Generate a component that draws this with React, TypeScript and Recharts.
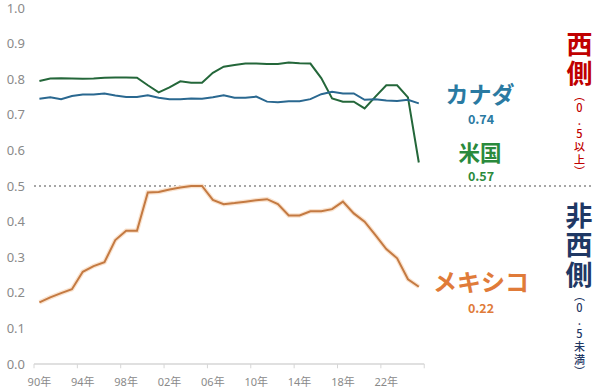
import React from "react";
import { LineChart, Line, XAxis, YAxis, ReferenceLine } from "recharts";

const years = [
  1990, 1991, 1992, 1993, 1994, 1995, 1996, 1997, 1998, 1999,
  2000, 2001, 2002, 2003, 2004, 2005, 2006, 2007, 2008, 2009,
  2010, 2011, 2012, 2013, 2014, 2015, 2016, 2017, 2018, 2019,
  2020, 2021, 2022, 2023, 2024, 2025,
];

const canada = [
  0.745, 0.749, 0.744, 0.753, 0.757, 0.757, 0.76, 0.754, 0.75, 0.75,
  0.755, 0.748, 0.744, 0.744, 0.746, 0.745, 0.749, 0.755, 0.748, 0.748,
  0.751, 0.737, 0.735, 0.738, 0.738, 0.744, 0.758, 0.765, 0.76, 0.76,
  0.742, 0.744, 0.74, 0.739, 0.742, 0.732,
];

const usa = [
  0.795, 0.802, 0.803, 0.802, 0.801, 0.802, 0.804, 0.805, 0.805, 0.804,
  0.783, 0.763, 0.777, 0.794, 0.79, 0.79, 0.818, 0.835, 0.84, 0.844,
  0.844, 0.843, 0.843, 0.847, 0.845, 0.844, 0.803, 0.746, 0.737, 0.737,
  0.718, 0.751, 0.783, 0.783, 0.749, 0.566,
];

const mexico = [
  0.173, 0.187, 0.199, 0.21, 0.259, 0.275, 0.286, 0.348, 0.374, 0.374,
  0.482, 0.483, 0.49, 0.496, 0.5, 0.5, 0.461, 0.449, 0.452, 0.456,
  0.46, 0.463, 0.449, 0.417, 0.417, 0.429, 0.429, 0.435, 0.456, 0.423,
  0.4, 0.362, 0.323, 0.297, 0.238, 0.217,
];

const tickYears = [1990, 1994, 1998, 2002, 2006, 2010, 2014, 2018, 2022];
const tickLabels = ["90年", "94年", "98年", "02年", "06年", "10年", "14年", "18年", "22年"];
const tickBoundaries = [1989.5, 1993.5, 1997.5, 2001.5, 2005.5, 2009.5, 2013.5, 2017.5, 2021.5, 2025.5];
const yTicks = [0, 0.1, 0.2, 0.3, 0.4, 0.5, 0.6, 0.7, 0.8, 0.9, 1.0];

const rows = years.map((year, i) => ({
  year,
  canada: canada[i],
  usa: usa[i],
  mexico: mexico[i],
}));

const C_CANADA_LINE = "#2a6890";
const C_US_LINE = "#24673a";
const C_MEX_LINE = "#c47a42";
const C_CANADA_TXT = "#2a7aa2";
const C_US_TXT = "#2a8a3c";
const C_MEX_TXT = "#e07b39";
const C_WEST = "#c00000";
const C_NONWEST = "#1f3864";

const jp = "'Noto Sans CJK JP', 'Noto Sans', sans-serif";

const centered = (x: number, y: number, size: number, color: string, bold = true): React.CSSProperties => ({
  position: "absolute",
  left: x,
  top: y,
  transform: "translate(-50%, -50%)",
  fontSize: size,
  fontWeight: bold ? 700 : 400,
  color,
  lineHeight: 1,
  whiteSpace: "nowrap",
  fontFamily: jp,
});

const vertical = (x: number, top: number, size: number, color: string, spacing: number, weight: number): React.CSSProperties => ({
  position: "absolute",
  left: x,
  top,
  transform: "translateX(-50%)",
  writingMode: "vertical-rl",
  textOrientation: "upright",
  fontSize: size,
  fontWeight: weight,
  letterSpacing: spacing,
  color,
  lineHeight: 1,
  whiteSpace: "nowrap",
  fontFamily: jp,
});

export default function App() {
  return (
    <div
      style={{
        position: "absolute",
        left: 0,
        top: 0,
        width: 600,
        height: 391,
        background: "#ffffff",
        fontFamily: "'Noto Sans', 'Noto Sans CJK JP', sans-serif",
        overflow: "hidden",
      }}
    >
      <LineChart width={600} height={391} data={rows} margin={{ top: 8, right: 7, bottom: 0, left: 0 }}>
        <XAxis
          dataKey="year"
          type="number"
          domain={[1989.5, 2041.07]}
          ticks={tickYears}
          interval={0}
          tickFormatter={(v: number) => tickLabels[tickYears.indexOf(v)] ?? ""}
          axisLine={false}
          tickLine={false}
          tickMargin={8}
          height={27}
          allowDataOverflow
          tick={{ fill: "#8a8a8a", fontSize: 11 }}
        />
        <YAxis
          domain={[0, 1]}
          ticks={yTicks}
          interval={0}
          tickFormatter={(v: number) => v.toFixed(1)}
          axisLine={false}
          tickLine={false}
          tickMargin={3}
          width={34}
          tick={{ fill: "#8a8a8a", fontSize: 13 }}
        />
        <ReferenceLine
          segment={[
            { x: tickBoundaries[0], y: 0 },
            { x: tickBoundaries[tickBoundaries.length - 1], y: 0 },
          ]}
          stroke="#d6d6d6"
          strokeWidth={1.5}
        />
        {tickBoundaries.map((b) => (
          <ReferenceLine
            key={b}
            segment={[
              { x: b, y: 0 },
              { x: b, y: -0.012 },
            ]}
            stroke="#d6d6d6"
            strokeWidth={1}
            ifOverflow="visible"
          />
        ))}
        <ReferenceLine y={0.5} stroke="#a6a6a6" strokeWidth={2} strokeDasharray="2 3" />
        <Line
          dataKey="mexico"
          stroke="#fae3cf"
          strokeWidth={4.5}
          dot={false}
          activeDot={false}
          isAnimationActive={false}
        />
        <Line dataKey="usa" stroke={C_US_LINE} strokeWidth={2} dot={false} isAnimationActive={false} />
        <Line dataKey="canada" stroke={C_CANADA_LINE} strokeWidth={2} dot={false} isAnimationActive={false} />
        <Line dataKey="mexico" stroke={C_MEX_LINE} strokeWidth={2} dot={false} isAnimationActive={false} />
      </LineChart>

      <div style={centered(480, 93, 23, C_CANADA_TXT)}>カナダ</div>
      <div style={centered(481, 119, 12.5, C_CANADA_TXT)}>0.74</div>
      <div style={centered(480, 152, 21.5, C_US_TXT)}>米国</div>
      <div style={centered(481, 176, 12.5, C_US_TXT)}>0.57</div>
      <div style={centered(481, 281, 24, C_MEX_TXT)}>メキシコ</div>
      <div style={centered(481, 308, 12.5, C_MEX_TXT)}>0.22</div>

      <div style={vertical(579, 31, 26, C_WEST, 3, 700)}>西側</div>
      <div style={vertical(579, 90, 11, C_WEST, 1.8, 500)}>（0.5以上）</div>
      <div style={vertical(579, 202, 27, C_NONWEST, 2.5, 700)}>非西側</div>
      <div style={vertical(579, 290, 11, C_NONWEST, 1.8, 500)}>（0.5未満）</div>
    </div>
  );
}
